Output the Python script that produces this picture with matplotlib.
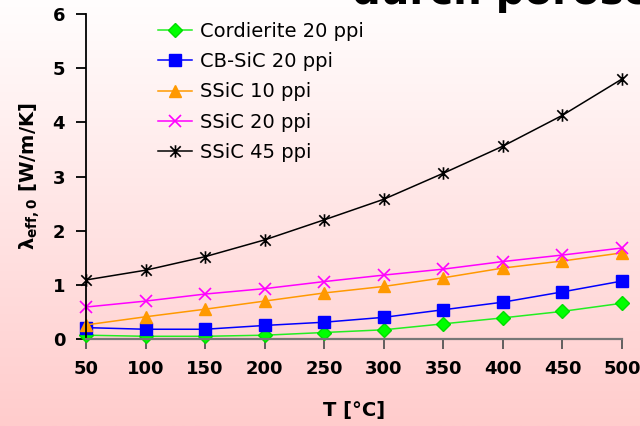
import numpy as np
import matplotlib
matplotlib.use("Agg")
import matplotlib.pyplot as plt
from matplotlib.path import Path

temperature = [50, 100, 150, 200, 250, 300, 350, 400, 450, 500]
cordierite_20 = [0.07, 0.05, 0.05, 0.07, 0.12, 0.17, 0.28, 0.39, 0.51, 0.66]
cbsic_20 = [0.21, 0.18, 0.18, 0.25, 0.31, 0.40, 0.54, 0.68, 0.87, 1.07]
ssic_10 = [0.26, 0.41, 0.55, 0.70, 0.85, 0.97, 1.13, 1.31, 1.44, 1.59]
ssic_20 = [0.59, 0.70, 0.83, 0.93, 1.06, 1.18, 1.29, 1.43, 1.55, 1.68]
ssic_45 = [1.09, 1.27, 1.52, 1.83, 2.20, 2.58, 3.06, 3.56, 4.13, 4.80]
series_labels = ["Cordierite 20 ppi", "CB-SiC 20 ppi", "SSiC 10 ppi", "SSiC 20 ppi", "SSiC 45 ppi"]
yticks = [0, 1, 2, 3, 4, 5, 6]
xticks = [50, 100, 150, 200, 250, 300, 350, 400, 450, 500]

plt.rcParams['mathtext.fontset'] = 'custom'
plt.rcParams['mathtext.rm'] = 'DejaVu Sans:bold'
plt.rcParams['mathtext.it'] = 'DejaVu Sans:bold'

fig = plt.figure(figsize=(6.4, 4.26), dpi=100)

# background gradient
bg = fig.add_axes([0, 0, 1, 1], zorder=-10)
grad = np.linspace(0, 1, 256).reshape(-1, 1)
top = np.array([1.0, 0.995, 0.995])
bot = np.array([1.0, 0.80, 0.80])
img = top[None, None, :] * (1 - grad[:, :, None]) + bot[None, None, :] * grad[:, :, None]
bg.imshow(img, aspect='auto', extent=[0, 1, 0, 1])
bg.axis('off')

ax = fig.add_axes([86/640, 1-339/426, (622-86)/640, (339-14)/426])
ax.patch.set_alpha(0)

star = Path([(-1, -1), (1, 1), (-1, 1), (1, -1), (0, -1.2), (0, 1.2)],
            [Path.MOVETO, Path.LINETO, Path.MOVETO, Path.LINETO, Path.MOVETO, Path.LINETO])

styles = [
    dict(color='#22ee22', marker='D', mfc='#00ff00', mec='#00dd00', ms=7),
    dict(color='#0000ff', marker='s', mfc='#0000ff', mec='#0000ff', ms=8),
    dict(color='#ff9900', marker='^', mfc='#ff9900', mec='#ff9900', ms=9),
    dict(color='#ff00ff', marker='x', mfc='#ff00ff', mec='#ff00ff', ms=8, mew=1.2),
    dict(color='#000000', marker=star, mfc='none', mec='#000000', ms=9, mew=1.2),
]
data = [cordierite_20, cbsic_20, ssic_10, ssic_20, ssic_45]
for y, lab, st in zip(data, series_labels, styles):
    ax.plot(temperature, y, lw=1.1, label=lab, clip_on=False, **st)

ax.set_xlim(50, 500)
ax.set_ylim(0, 6)
ax.set_xticks(xticks)
ax.set_yticks(yticks)
for lbl in ax.get_xticklabels() + ax.get_yticklabels():
    lbl.set_fontweight('bold')
    lbl.set_fontsize(13)
ax.tick_params(axis='y', direction='out', length=7, width=1.3, pad=8, colors='black')
ax.tick_params(axis='x', direction='out', length=7, width=1.3, pad=8, color='#555555', labelcolor='black')
ax.spines['top'].set_visible(False)
ax.spines['right'].set_visible(False)
ax.spines['left'].set_color('black')
ax.spines['left'].set_linewidth(1.3)
ax.spines['bottom'].set_color('#777777')
ax.spines['bottom'].set_linewidth(1.6)

ax.set_xlabel('T [°C]', fontsize=14, fontweight='bold', labelpad=17)
ax.set_ylabel(r'$\lambda_{\mathregular{eff,0}}$ [W/m/K]', fontsize=14, fontweight='bold', labelpad=8)

leg = ax.legend(loc='upper left', bbox_to_anchor=(0.12, 1.0), frameon=False,
                fontsize=14, handlelength=1.75, labelspacing=0.58, handletextpad=0.4,
                borderaxespad=0)

fig.text(352/640, 1 - 4/426, 'durch poröse Schäume', fontsize=29, fontweight='bold',
         ha='left', va='baseline')

fig.savefig('out.png', dpi=100)
